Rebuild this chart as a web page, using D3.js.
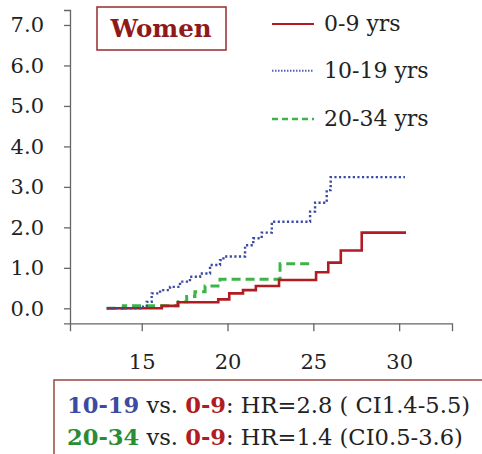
<!DOCTYPE html>
<html>
<head>
<meta charset="utf-8">
<script src="https://cdnjs.cloudflare.com/ajax/libs/d3/7.8.5/d3.min.js"></script>
<style>
  body { margin: 0; background: #fff; }
  text { font-family: "DejaVu Serif", "Liberation Serif", serif; }
</style>
</head>
<body>
<svg id="chart" width="482" height="454"></svg>
<script>
const width = 482;
const height = 454;

// step data: [age, cumulative incidence]
const group09 = [[12.96, 0], [16.17, 0.06], [17.1, 0.15], [19.46, 0.22], [20.1, 0.37],
  [20.9, 0.45], [21.65, 0.55], [23.0, 0.70], [25.16, 0.89], [25.87, 1.13],
  [26.6, 1.43], [27.82, 1.87], [30.4, 1.87]];
const group1019 = [[12.96, 0], [14.9, 0.04], [15.29, 0.16], [15.58, 0.37], [16.07, 0.45],
  [16.65, 0.53], [17.23, 0.66], [17.81, 0.78], [18.4, 0.86], [18.98, 1.07],
  [19.56, 1.19], [19.76, 1.28], [21.02, 1.56], [21.5, 1.73], [21.99, 1.87],
  [22.58, 2.14], [24.81, 2.39], [25.1, 2.61], [25.78, 2.92], [26.01, 3.24], [30.34, 3.24]];
const group2034 = [[12.96, 0], [13.93, 0.065], [17.13, 0.16], [17.62, 0.29], [18.1, 0.41],
  [18.69, 0.55], [19.56, 0.72], [23.06, 1.1], [24.9, 1.1]];

const yTicks = [0, 1, 2, 3, 4, 5, 6, 7];
const xTicks = [15, 20, 25, 30];
const legendLabels = ["0-9 yrs", "10-19 yrs", "20-34 yrs"];

const red = "#b01c22";
const blue = "#3b4aa3";
const green = "#3cb44a";

const svg = d3.select("#chart");

const x = d3.scaleLinear().domain([10.82, 33.08]).range([70, 452]);
const y = d3.scaleLinear().domain([-0.37, 7.37]).range([323.3, 10]);

// axes
const yAxis = svg.append("g")
    .attr("transform", "translate(70,0)")
    .call(d3.axisLeft(y).tickValues(yTicks).tickSize(6).tickFormat(d3.format(".1f")));
const xAxis = svg.append("g")
    .attr("transform", "translate(0,323.3)")
    .call(d3.axisBottom(x).tickValues(xTicks).tickSize(8).tickFormat(d3.format("d")));

[yAxis, xAxis].forEach(g => {
    g.select(".domain").attr("stroke", "#666").attr("stroke-width", 1.3);
    g.selectAll(".tick line").attr("stroke", "#666").attr("stroke-width", 1.3);
    g.selectAll(".tick text").attr("fill", "#222").attr("font-size", 21)
        .style("font-family", "DejaVu Serif, serif");
});
yAxis.selectAll(".tick text").attr("x", -26);
xAxis.selectAll(".tick text").attr("y", 31);

const line = d3.line()
    .x(d => x(d[0]))
    .y(d => y(d[1]))
    .curve(d3.curveStepAfter);

svg.append("path").datum(group2034)
    .attr("d", line).attr("fill", "none")
    .attr("stroke", green).attr("stroke-width", 3).attr("stroke-dasharray", "9,5");
svg.append("path").datum(group09)
    .attr("d", line).attr("fill", "none")
    .attr("stroke", red).attr("stroke-width", 2.6);
svg.append("path").datum(group1019)
    .attr("d", line).attr("fill", "none")
    .attr("stroke", blue).attr("stroke-width", 2.4).attr("stroke-dasharray", "2.2,2.4");

// title box
svg.append("rect")
    .attr("x", 97).attr("y", 7).attr("width", 129).attr("height", 43)
    .attr("fill", "#fff").attr("stroke", "#9a2a2a").attr("stroke-width", 1.5);
svg.append("text")
    .attr("x", 161).attr("y", 37).attr("text-anchor", "middle")
    .attr("font-size", 24.5).attr("font-weight", "bold").attr("fill", "#8e1a1a")
    .text("Women");

// legend
const legendStyles = [
    { color: red, width: 2, dash: null },
    { color: "#5060b8", width: 2, dash: "1.5,1.5" },
    { color: green, width: 2.5, dash: "6,4" }
];
const legendY = [24, 70.7, 119];
legendLabels.forEach((label, i) => {
    const s = legendStyles[i];
    svg.append("line")
        .attr("x1", 272).attr("x2", 314)
        .attr("y1", legendY[i]).attr("y2", legendY[i])
        .attr("stroke", s.color).attr("stroke-width", s.width)
        .attr("stroke-dasharray", s.dash);
    svg.append("text")
        .attr("x", 324).attr("y", legendY[i]).attr("dy", "0.32em")
        .attr("font-size", 22).attr("fill", "#222")
        .text(label);
});

// hazard ratio box
svg.append("rect")
    .attr("x", 54).attr("y", 380).attr("width", 440).attr("height", 90)
    .attr("fill", "#fff").attr("stroke", "#a0504a").attr("stroke-width", 1.6);

const hrLines = [
    [{ t: "10-19", c: blue, b: true }, { t: " vs. ", c: "#222" }, { t: "0-9", c: red, b: true },
     { t: ": HR=2.8 ( CI1.4-5.5)", c: "#222" }],
    [{ t: "20-34", c: "#2a8c34", b: true }, { t: " vs. ", c: "#222" }, { t: "0-9", c: red, b: true },
     { t: ": HR=1.4 (CI0.5-3.6)", c: "#222" }]
];
const hrY = [413, 445];
hrLines.forEach((parts, i) => {
    const t = svg.append("text")
        .attr("x", 67).attr("y", hrY[i])
        .attr("font-size", 22.6)
        .attr("xml:space", "preserve");
    parts.forEach(p => {
        t.append("tspan")
            .attr("fill", p.c)
            .attr("font-weight", p.b ? "bold" : "normal")
            .text(p.t);
    });
});
</script>
</body>
</html>
